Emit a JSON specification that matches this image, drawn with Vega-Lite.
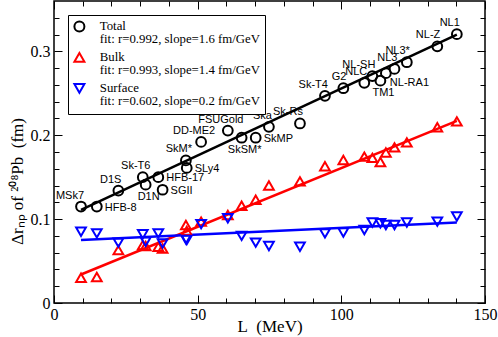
{
  "$schema": "https://vega.github.io/schema/vega-lite/v6.json",
  "width": 431,
  "height": 302,
  "autosize": {"type": "none"},
  "padding": {"left": 54, "top": 1, "right": 13, "bottom": 34},
  "background": "white",
  "config": {
    "view": {"stroke": "black", "strokeWidth": 1.5},
    "style": {"guide-label": {"lineHeight": 13}},
    "axis": {"grid": false, "domain": false, "tickColor": "black", "labelColor": "black", "titleColor": "black", "labelFont": "Liberation Serif", "titleFont": "Liberation Serif", "labelFontSize": 16, "titleFontSize": 17, "titleFontWeight": "normal", "tickWidth": 1, "labelFlush": false},
    "legend": {"labelFont": "Liberation Serif", "labelFontSize": 12.8, "labelColor": "black", "labelLimit": 300, "symbolSize": 100, "symbolStrokeWidth": 2, "rowPadding": 2, "labelOffset": 14, "padding": 5, "strokeColor": "black", "fillColor": "white", "cornerRadius": 0},
    "text": {"font": "Liberation Sans", "fontSize": 11, "color": "black"}
  },
  "datasets": {
    "models": [
      {"model": "MSk7", "L": 9.4, "Total": 0.115, "Bulk": 0.030, "Surface": 0.085, "side": "ul"},
      {"model": "HFB-8", "L": 14.9, "Total": 0.115, "Bulk": 0.031, "Surface": 0.083, "side": "r"},
      {"model": "D1S", "L": 22.4, "Total": 0.134, "Bulk": 0.063, "Surface": 0.072, "side": "ul"},
      {"model": "Sk-T6", "L": 30.9, "Total": 0.150, "Bulk": 0.069, "Surface": 0.082, "side": "u"},
      {"model": "D1N", "L": 31.9, "Total": 0.141, "Bulk": 0.068, "Surface": 0.073, "side": "d"},
      {"model": "HFB-17", "L": 36.3, "Total": 0.150, "Bulk": 0.067, "Surface": 0.083, "side": "r"},
      {"model": "SGII", "L": 37.8, "Total": 0.135, "Bulk": 0.065, "Surface": 0.071, "side": "r"},
      {"model": "SkM*", "L": 45.9, "Total": 0.170, "Bulk": 0.093, "Surface": 0.076, "side": "u"},
      {"model": "SLy4", "L": 46.2, "Total": 0.161, "Bulk": 0.086, "Surface": 0.075, "side": "r"},
      {"model": "DD-ME2", "L": 51.2, "Total": 0.192, "Bulk": 0.097, "Surface": 0.094, "side": "u"},
      {"model": "FSUGold", "L": 60.5, "Total": 0.2055, "Bulk": 0.105, "Surface": 0.101, "side": "u"},
      {"model": "SkSM*", "L": 65.3, "Total": 0.197, "Bulk": 0.116, "Surface": 0.080, "side": "d"},
      {"model": "SkMP", "L": 70.2, "Total": 0.197, "Bulk": 0.123, "Surface": 0.072, "side": "r"},
      {"model": "Ska", "L": 74.8, "Total": 0.210, "Bulk": 0.140, "Surface": 0.068, "side": "ul"},
      {"model": "Sk-Rs", "L": 85.6, "Total": 0.214, "Bulk": 0.145, "Surface": 0.067, "side": "ul"},
      {"model": "Sk-T4", "L": 94.3, "Total": 0.247, "Bulk": 0.163, "Surface": 0.083, "side": "ul"},
      {"model": "G2", "L": 100.7, "Total": 0.256, "Bulk": 0.1705, "Surface": 0.084, "side": "ul"},
      {"model": "NLC", "L": 108.0, "Total": 0.2625, "Bulk": 0.1745, "Surface": 0.087, "side": "ul"},
      {"model": "NL-SH", "L": 110.8, "Total": 0.2705, "Bulk": 0.173, "Surface": 0.096, "side": "ul"},
      {"model": "TM1", "L": 113.6, "Total": 0.265, "Bulk": 0.168, "Surface": 0.095, "side": "d"},
      {"model": "NL-RA1", "L": 115.5, "Total": 0.274, "Bulk": 0.1795, "Surface": 0.093, "side": "dr"},
      {"model": "NL3", "L": 118.5, "Total": 0.279, "Bulk": 0.1855, "Surface": 0.093, "side": "ul"},
      {"model": "NL3*", "L": 122.8, "Total": 0.287, "Bulk": 0.1915, "Surface": 0.096, "side": "ul"},
      {"model": "NL-Z", "L": 133.4, "Total": 0.306, "Bulk": 0.2095, "Surface": 0.097, "side": "ul"},
      {"model": "NL1", "L": 140.2, "Total": 0.3205, "Bulk": 0.2165, "Surface": 0.103, "side": "ul"}
    ],
    "fits": [
      {"series": "Total", "L": 9.4, "value": 0.111},
      {"series": "Total", "L": 140.2, "value": 0.320},
      {"series": "Bulk", "L": 9.4, "value": 0.034},
      {"series": "Bulk", "L": 140.2, "value": 0.217},
      {"series": "Surface", "L": 9.4, "value": 0.075},
      {"series": "Surface", "L": 140.2, "value": 0.096}
    ]
  },
  "layer": [
    {
      "data": {"name": "fits"},
      "mark": {"type": "line", "strokeWidth": 2.5},
      "encoding": {
        "x": {"field": "L", "type": "quantitative", "scale": {"domain": [0, 150], "nice": false, "zero": false},
          "axis": {"orient": "bottom", "values": [0, 50, 100, 150], "tickSize": -8, "labelPadding": 11, "format": "d", "title": "L\u00a0\u00a0(MeV)", "titleX": 215.5, "titleY": 23, "titleBaseline": "middle"}},
        "y": {"field": "value", "type": "quantitative", "scale": {"domain": [0, 0.36], "nice": false, "zero": false},
          "axis": {"orient": "left", "values": [0, 0.1, 0.2, 0.3], "tickSize": -8, "labelPadding": 12, "labelExpr": "datum.value == 0 ? '0' : format(datum.value, '.1f')", "title": "Δrₙₚ of ²⁰⁸Pb\u00a0\u00a0(fm)", "titleX": -37, "titleY": 180, "titleBaseline": "middle", "titleAlign": "center"}},
        "color": {"field": "series", "type": "nominal", "scale": {"domain": ["Bulk", "Surface", "Total"], "range": ["red", "blue", "black"]}, "legend": null}
      }
    },
    {
      "data": {"name": "models"},
      "transform": [{"fold": ["Total", "Bulk", "Surface"], "as": ["series", "value"]}],
      "mark": {"type": "point", "filled": false, "strokeWidth": 2, "size": 95, "opacity": 1},
      "encoding": {
        "x": {"field": "L", "type": "quantitative",
          "axis": {"orient": "bottom", "values": [10, 20, 30, 40, 60, 70, 80, 90, 110, 120, 130, 140], "tickSize": -5, "labels": false, "title": null}},
        "y": {"field": "value", "type": "quantitative",
          "axis": {"orient": "left", "values": [0.02, 0.04, 0.06, 0.08, 0.12, 0.14, 0.16, 0.18, 0.22, 0.24, 0.26, 0.28, 0.32, 0.34], "tickSize": -5, "labels": false, "title": null}},
        "shape": {"field": "series", "type": "nominal", "scale": {"domain": ["Total", "Bulk", "Surface"], "range": ["circle", "triangle-up", "triangle-down"]},
          "legend": {"orient": "top-left", "offset": 14, "title": null,
            "labelExpr": "datum.label == 'Total' ? ['Total', '\u00a0fit: r=0.992, slope=1.6 fm/GeV'] : datum.label == 'Bulk' ? ['Bulk', '\u00a0fit: r=0.993, slope=1.4 fm/GeV'] : ['Surface', '\u00a0fit: r=0.602, slope=0.2 fm/GeV']"}},
        "stroke": {"field": "series", "type": "nominal", "scale": {"domain": ["Total", "Bulk", "Surface"], "range": ["black", "red", "blue"]},
          "legend": {"orient": "top-left", "offset": 14, "title": null,
            "labelExpr": "datum.label == 'Total' ? ['Total', '\u00a0fit: r=0.992, slope=1.6 fm/GeV'] : datum.label == 'Bulk' ? ['Bulk', '\u00a0fit: r=0.993, slope=1.4 fm/GeV'] : ['Surface', '\u00a0fit: r=0.602, slope=0.2 fm/GeV']"}}
      }
    },
    {
      "data": {"name": "models"},
      "transform": [{"filter": "datum.side == 'ul'"}],
      "mark": {"type": "text", "align": "right", "baseline": "middle", "dx": 3, "dy": -11},
      "encoding": {
        "x": {"field": "L", "type": "quantitative", "axis": {"orient": "top", "values": [0, 50, 100, 150], "tickSize": -8, "labels": false, "title": null}},
        "y": {"field": "Total", "type": "quantitative", "axis": {"orient": "right", "values": [0, 0.1, 0.2, 0.3], "tickSize": -8, "labels": false, "title": null}},
        "text": {"field": "model"}
      }
    },
    {
      "data": {"name": "models"},
      "transform": [{"filter": "datum.side == 'u'"}],
      "mark": {"type": "text", "align": "center", "baseline": "middle", "dx": -7, "dy": -11},
      "encoding": {
        "x": {"field": "L", "type": "quantitative", "axis": {"orient": "top", "values": [10, 20, 30, 40, 60, 70, 80, 90, 110, 120, 130, 140], "tickSize": -5, "labels": false, "title": null}},
        "y": {"field": "Total", "type": "quantitative", "axis": {"orient": "right", "values": [0.02, 0.04, 0.06, 0.08, 0.12, 0.14, 0.16, 0.18, 0.22, 0.24, 0.26, 0.28, 0.32, 0.34], "tickSize": -5, "labels": false, "title": null}},
        "text": {"field": "model"}
      }
    },
    {
      "data": {"name": "models"},
      "transform": [{"filter": "datum.side == 'd'"}],
      "mark": {"type": "text", "align": "center", "baseline": "middle", "dx": 3, "dy": 12},
      "encoding": {
        "x": {"field": "L", "type": "quantitative", "axis": null},
        "y": {"field": "Total", "type": "quantitative", "axis": null},
        "text": {"field": "model"}
      }
    },
    {
      "data": {"name": "models"},
      "transform": [{"filter": "datum.side == 'r'"}],
      "mark": {"type": "text", "align": "left", "baseline": "middle", "dx": 8, "dy": 1},
      "encoding": {
        "x": {"field": "L", "type": "quantitative", "axis": null},
        "y": {"field": "Total", "type": "quantitative", "axis": null},
        "text": {"field": "model"}
      }
    },
    {
      "data": {"name": "models"},
      "transform": [{"filter": "datum.side == 'dr'"}],
      "mark": {"type": "text", "align": "left", "baseline": "middle", "dx": 4, "dy": 10},
      "encoding": {
        "x": {"field": "L", "type": "quantitative", "axis": null},
        "y": {"field": "Total", "type": "quantitative", "axis": null},
        "text": {"field": "model"}
      }
    }
  ],
  "resolve": {"axis": {"x": "independent", "y": "independent"}}
}
